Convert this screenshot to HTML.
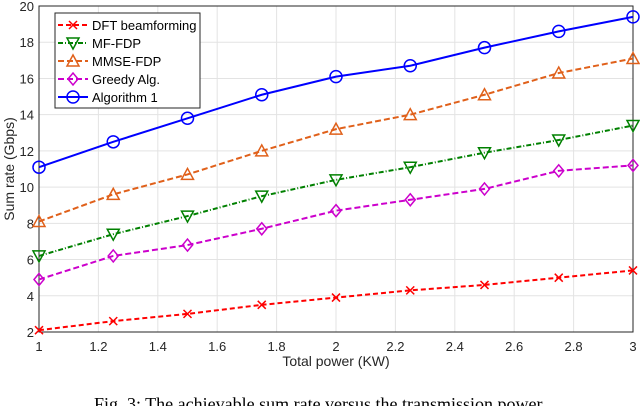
<!DOCTYPE html>
<html><head><meta charset="utf-8"><style>
body{margin:0;background:#fff;width:640px;height:406px;overflow:hidden}
svg text{font-family:"Liberation Sans",sans-serif}
</style></head><body>
<svg id="c" width="640" height="406"></svg>
<script>
const xs=[1,1.25,1.5,1.75,2,2.25,2.5,2.75,3];
const dft=[2.1,2.6,3.0,3.5,3.9,4.3,4.6,5.0,5.4];
const mf=[6.2,7.4,8.4,9.5,10.4,11.1,11.9,12.6,13.4];
const mmse=[8.1,9.6,10.7,12.0,13.2,14.0,15.1,16.3,17.1];
const greedy=[4.9,6.2,6.8,7.7,8.7,9.3,9.9,10.9,11.2];
const alg1=[11.1,12.5,13.8,15.1,16.1,16.7,17.7,18.6,19.4];
const xTicks=[1,1.2,1.4,1.6,1.8,2,2.2,2.4,2.6,2.8,3];
const yTicks=[2,4,6,8,10,12,14,16,18,20];
const L=39,R=633,T=6,B=332;
const X=v=>L+(v-1)/2*(R-L), Y=v=>B-(v-2)/18*(B-T);
const s=document.getElementById('c');const NS='http://www.w3.org/2000/svg';
function el(t,a,p){const e=document.createElementNS(NS,t);for(const k in a)e.setAttribute(k,a[k]);(p||s).appendChild(e);return e;}
for(const t of xTicks){const g=el('line',{x1:X(t),x2:X(t),y1:T,y2:B,stroke:'#e3e3e3'});

const tx=el('text',{x:X(t),y:B+19,'text-anchor':'middle','font-size':13,fill:'#262626'});tx.textContent=t;
}
for(const t of yTicks){const g=el('line',{x1:L,x2:R,y1:Y(t),y2:Y(t),stroke:'#e3e3e3'});

const tx=el('text',{x:L-5,y:Y(t)+5,'text-anchor':'end','font-size':13,fill:'#262626'});tx.textContent=t;
}
const ax=el('rect',{x:L,y:T,width:R-L,height:B-T,fill:'none',stroke:'#262626','stroke-width':1});

function marker(k,x,y,c,p){
 if(k=='x'){el('path',{d:`M${x-4},${y-4}L${x+4},${y+4}M${x-4},${y+4}L${x+4},${y-4}`,stroke:c,'stroke-width':1.5,fill:'none'},p);}
 if(k=='v'){el('path',{d:`M${x-6},${y-5}L${x+6},${y-5}L${x},${y+6}Z`,stroke:c,'stroke-width':1.5,fill:'none'},p);}
 if(k=='^'){el('path',{d:`M${x-6},${y+5}L${x+6},${y+5}L${x},${y-6}Z`,stroke:c,'stroke-width':1.5,fill:'none'},p);}
 if(k=='d'){el('path',{d:`M${x},${y-6}L${x+5},${y}L${x},${y+6}L${x-5},${y}Z`,stroke:c,'stroke-width':1.5,fill:'none'},p);}
 if(k=='o'){el('circle',{cx:x,cy:y,r:6,stroke:c,'stroke-width':1.5,fill:'none'},p);}
}
const series=[[dft,'#ff0000','x','5,3','dft-beamforming-series'],[mf,'#008000','v','5,2,1,2','mf-fdp-series'],[mmse,'#e0601a','^','6,3','mmse-fdp-series'],[greedy,'#cc00cc','d','6,3','greedy-series'],[alg1,'#0000ff','o','','algorithm1-series']];
for(const [d,c,m,da,n] of series){const g=el('g',{});

el('polyline',{points:d.map((v,i)=>X(xs[i])+','+Y(v)).join(' '),fill:'none',stroke:c,'stroke-width':2,'stroke-dasharray':da},g);
d.forEach((v,i)=>marker(m,X(xs[i]),Y(v),c,g));}
const lg=el('g',{});
el('rect',{x:55,y:13,width:145,height:95,fill:'#fff',stroke:'#262626','stroke-width':1},lg);
const names=['DFT beamforming','MF-FDP','MMSE-FDP','Greedy Alg.','Algorithm 1'];
series.forEach((sr,i)=>{const y=25+i*18;const e=el('g',{},lg);

el('line',{x1:58,x2:88,y1:y,y2:y,stroke:sr[1],'stroke-width':2,'stroke-dasharray':sr[3]},e);
marker(sr[2],73,y,sr[1],e);
const t=el('text',{x:92,y:y+5,'font-size':13,fill:'#000'},e);t.textContent=names[i];});
const xl=el('text',{x:336,y:366,'text-anchor':'middle','font-size':14,fill:'#262626'});xl.textContent='Total power (KW)';

const yl=el('text',{x:0,y:0,'text-anchor':'middle','font-size':14,fill:'#262626',transform:`translate(14,${(T+B)/2}) rotate(-90)`});yl.textContent='Sum rate (Gbps)';

const cp=el('text',{x:320,y:410,'text-anchor':'middle','font-size':18,fill:'#000','font-family':'Liberation Serif, serif',style:'font-family:"Liberation Serif",serif'});cp.textContent='Fig. 3: The achievable sum rate versus the transmission power.';

</script>
</body></html>
